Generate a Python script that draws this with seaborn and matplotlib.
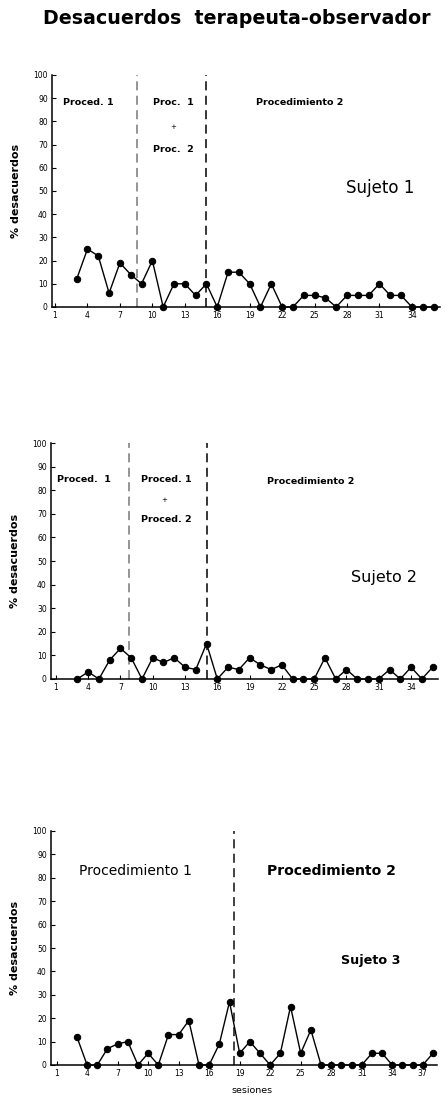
import numpy as np
import pandas as pd
import matplotlib
matplotlib.use("Agg")
import matplotlib.pyplot as plt
import seaborn as sns

# ---------------- data ----------------
sessions_1 = list(range(3, 37))
values_1 = [12, 25, 22, 6, 19, 14, 10, 20, 0, 10, 10, 5, 10, 0, 15, 15, 10, 0,
            10, 0, 0, 5, 5, 4, 0, 5, 5, 5, 10, 5, 5, 0, 0, 0]
sessions_2 = list(range(3, 37))
values_2 = [0, 3, 0, 8, 13, 9, 0, 9, 7, 9, 5, 4, 15, 0, 5, 4, 9, 6, 4, 6,
            0, 0, 0, 9, 0, 4, 0, 0, 0, 4, 0, 5, 0, 5]
sessions_3 = list(range(3, 39))
values_3 = [12, 0, 0, 7, 9, 10, 0, 5, 0, 13, 13, 19, 0, 0, 9, 27, 5, 10,
            5, 0, 5, 25, 5, 15, 0, 0, 0, 0, 0, 5, 5, 0, 0, 0, 0, 5]

xticks_12 = [1, 4, 7, 10, 13, 16, 19, 22, 25, 28, 31, 34]
xticks_3 = [1, 4, 7, 10, 13, 16, 19, 22, 25, 28, 31, 34, 37]
yticks = [0, 10, 20, 30, 40, 50, 60, 70, 80, 90, 100]

phase_lines_1 = [8.6, 15]
phase_lines_2 = [7.75, 15]
phase_lines_3 = [18.4]

title = "Desacuerdos  terapeuta-observador"
ylabel = "% desacuerdos"
xlabel = "sesiones"

# ---------------- style ----------------
sns.set_style("ticks")
plt.rcParams["font.family"] = ["DejaVu Sans"]
plt.rcParams["text.color"] = "black"
plt.rcParams["axes.labelcolor"] = "black"

W, H = 446, 1095
fig = plt.figure(figsize=(W / 100, H / 100), dpi=100)


def axes_px(left, right, top, bottom):
    return fig.add_axes([left / W, 1 - bottom / H, (right - left) / W, (bottom - top) / H])


def panel(ax, sess, vals, xlim, xticks, vlines, vcolors):
    df = pd.DataFrame({"sesion": sess, "pct": vals})
    for xv, c in zip(vlines, vcolors):
        ax.axvline(xv, ymin=0, ymax=1, color=c, linestyle=(0, (5, 3)),
                   linewidth=1.3, zorder=1)
    sns.lineplot(data=df, x="sesion", y="pct", ax=ax, color="black",
                 marker="o", markersize=4.6, markeredgecolor="black",
                 linewidth=1.0, clip_on=False, zorder=3)
    ax.set_xlim(*xlim)
    ax.set_ylim(0, 100)
    ax.set_xticks(xticks)
    ax.set_xticklabels([str(t) for t in xticks])
    ax.set_yticks(yticks)
    ax.tick_params(axis="both", direction="in", length=3, width=0.8,
                   labelsize=5.5, pad=3, colors="black", labelcolor="black")
    for s in ["top", "right"]:
        ax.spines[s].set_visible(False)
    for s in ["left", "bottom"]:
        ax.spines[s].set_linewidth(1.1)
        ax.spines[s].set_color("black")
    ax.set_xlabel("")
    ax.set_ylabel(ylabel, fontsize=8, fontweight="bold", color="black")
    ax.yaxis.set_label_coords(-0.08, 0.5)


small = dict(fontsize=6.8, fontweight="bold", ha="center", va="center", color="black")

# panel 1
ax1 = axes_px(52, 440, 75, 307)
panel(ax1, sessions_1, values_1, (0.72, 36.6), xticks_12, phase_lines_1, ["0.55", "0.15"])
ax1.text(4.1, 88, "Proced. 1", **small)
ax1.text(11.9, 88, "Proc.  1", **small)
ax1.text(11.9, 77.6, "+", fontsize=5, ha="center", va="center", color="black")
ax1.text(11.9, 67.7, "Proc.  2", **small)
ax1.text(23.6, 88, "Procedimiento 2", **small)
ax1.text(31.1, 51.3, "Sujeto 1", fontsize=12, ha="center", va="center", color="black")

# panel 2
ax2 = axes_px(51, 438, 443, 679)
panel(ax2, sessions_2, values_2, (0.55, 36.5), xticks_12, phase_lines_2, ["0.55", "0.15"])
ax2.text(3.6, 84.4, "Proced.  1", **small)
ax2.text(11.3, 84.4, "Proced. 1", **small)
ax2.text(11.1, 75.7, "+", fontsize=5, ha="center", va="center", color="black")
ax2.text(11.3, 67.5, "Proced. 2", **small)
ax2.text(24.7, 83.7, "Procedimiento 2", **small)
ax2.text(31.5, 43, "Sujeto 2", fontsize=11.5, ha="center", va="center", color="black")

# panel 3
ax3 = axes_px(51, 437, 831, 1065)
panel(ax3, sessions_3, values_3, (0.45, 38.4), xticks_3, phase_lines_3, ["0.2"])
ax3.text(8.8, 82.8, "Procedimiento 1", fontsize=10, ha="center", va="center", color="black")
ax3.text(28.0, 83, "Procedimiento 2", fontsize=10.1, fontweight="bold",
         ha="center", va="center", color="black")
ax3.text(31.9, 44.8, "Sujeto 3", fontsize=9.2, fontweight="bold",
         ha="center", va="center", color="black")
ax3.set_xlabel(xlabel, fontsize=6.8, color="black")
ax3.xaxis.set_label_coords(0.52, -0.09)

fig.text(237 / W, 1 - 18 / H, title, fontsize=13.7, fontweight="bold",
         ha="center", va="center", color="black")

fig.savefig("out.png", dpi=100)
